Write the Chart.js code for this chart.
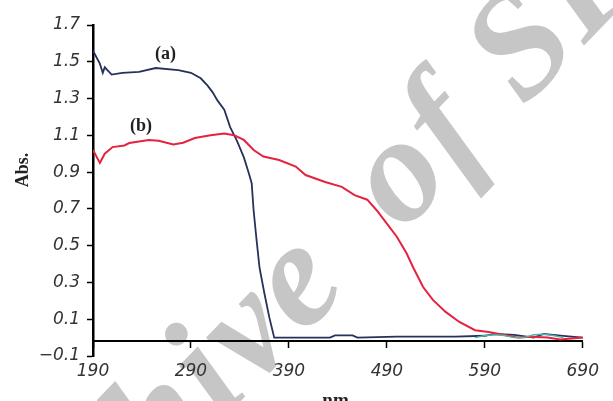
<!DOCTYPE html>
<html>
<head>
<meta charset="utf-8">
<script src="https://cdn.jsdelivr.net/npm/chart.js@4"></script>
<style>
  html, body { margin: 0; padding: 0; background: #fff; }
  #wrap { width: 613px; height: 401px; position: relative; }
</style>
</head>
<body>
<div id="wrap"><canvas id="chart"></canvas></div>
<script>
// Spectrum (a)
const nmA = [190, 197, 200, 202, 209, 220, 237, 254, 277, 290, 300, 307, 312, 317, 324, 330, 337, 344, 349, 352, 354, 357, 360, 365, 370, 375, 400, 432, 437, 455, 460, 500, 560, 590, 600, 620, 640, 650, 670, 690];
const absA = [1.56, 1.49, 1.44, 1.47, 1.43, 1.44, 1.445, 1.466, 1.455, 1.44, 1.41, 1.37, 1.335, 1.29, 1.24, 1.145, 1.07, 0.98, 0.895, 0.84, 0.69, 0.53, 0.38, 0.24, 0.11, 0.0, 0.0, 0.0, 0.012, 0.012, 0.0, 0.005, 0.005, 0.01, 0.02, 0.015, 0.0, 0.02, 0.01, 0.0];

// Spectrum (b)
const nmB = [190, 194, 197, 202, 210, 222, 227, 247, 257, 272, 282, 294, 310, 324, 334, 344, 354, 364, 380, 397, 407, 427, 444, 457, 470, 480, 490, 500, 510, 517, 527, 537, 550, 564, 580, 594, 610, 624, 637, 654, 667, 690];
const absB = [1.02, 0.98, 0.95, 1.00, 1.036, 1.045, 1.058, 1.075, 1.07, 1.05, 1.06, 1.085, 1.10, 1.11, 1.10, 1.075, 1.02, 0.985, 0.966, 0.93, 0.884, 0.846, 0.82, 0.775, 0.75, 0.69, 0.62, 0.55, 0.46, 0.38, 0.275, 0.205, 0.14, 0.085, 0.04, 0.03, 0.014, 0.0, 0.005, 0.0, -0.01, 0.0];

// faint baseline trace
const nmC = [580, 590, 600, 610, 620, 630, 640, 650, 660, 670];
const absC = [0.0, 0.012, 0.015, 0.012, 0.0, 0.0, 0.015, 0.018, 0.012, 0.0];

const xTicks = [190, 290, 390, 490, 590, 690];
const yTicks = [-0.1, 0.1, 0.3, 0.5, 0.7, 0.9, 1.1, 1.3, 1.5, 1.7];

const toPoints = (xs, ys) => xs.map((x, i) => ({ x: x, y: ys[i] }));

const tickFont = { family: "'DejaVu Sans'", size: 17, style: 'italic' };

// texts: watermark behind everything, then curve labels and axis titles
const textPlugin = {
  id: 'texts',
  beforeDraw(chart) {
    const ctx = chart.ctx;
    ctx.save();
    ctx.fillStyle = '#c6c6c6';
    ctx.font = "italic bold 150px 'Liberation Serif'";
    ctx.translate(403, 233);
    ctx.rotate(-46 * Math.PI / 180);
    ctx.textBaseline = 'alphabetic';
    ctx.textAlign = 'right';
    ctx.letterSpacing = '4px';
    ctx.fillText('Archive', -73, 0);
    ctx.textAlign = 'left';
    ctx.letterSpacing = '4px';
    ctx.fillText('of SID', 0, 0);
    ctx.restore();
  },
  afterDraw(chart) {
    const ctx = chart.ctx;
    const x = chart.scales.x, y = chart.scales.y;
    ctx.save();
    ctx.fillStyle = '#222';
    ctx.font = "bold 18px 'Liberation Serif'";
    ctx.textAlign = 'center';
    ctx.textBaseline = 'middle';
    ctx.fillText('(a)', x.getPixelForValue(264), y.getPixelForValue(1.54));
    ctx.fillText('(b)', x.getPixelForValue(239), y.getPixelForValue(1.15));
    ctx.font = "bold 19px 'Liberation Serif'";
    ctx.fillText('nm.', (chart.chartArea.left + chart.chartArea.right) / 2, 401);
    ctx.translate(23, 170);
    ctx.rotate(-Math.PI / 2);
    ctx.font = "bold 18px 'Liberation Serif'";
    ctx.fillText('Abs.', 0, 0);
    ctx.restore();
  }
};

new Chart(document.getElementById('chart'), {
  type: 'line',
  data: {
    datasets: [
      {
        data: toPoints(nmC, absC),
        borderColor: '#4fb3a8',
        borderWidth: 1.5,
        pointRadius: 0
      },
      {
        data: toPoints(nmB, absB),
        borderColor: '#e5233f',
        borderWidth: 2,
        pointRadius: 0
      },
      {
        data: toPoints(nmA, absA),
        borderColor: '#26315c',
        borderWidth: 1.8,
        pointRadius: 0
      }
    ]
  },
  options: {
    responsive: true,
    maintainAspectRatio: false,
    animation: false,
    layout: { padding: { top: 25, right: 21, left: 0, bottom: 45 } },
    plugins: {
      legend: { display: false },
      tooltip: { enabled: false }
    },
    scales: {
      x: {
        type: 'linear',
        min: 190,
        max: 690,
        position: { y: -0.021 },
        afterBuildTicks: s => { s.ticks = xTicks.map(v => ({ value: v })); },
        border: { display: true, color: '#000', width: 2 },
        grid: { drawOnChartArea: false, drawTicks: true, tickLength: 6, tickColor: '#000', tickWidth: 1.5 },
        ticks: { font: tickFont, color: '#333', padding: 14, maxRotation: 0 }
      },
      y: {
        min: -0.1,
        max: 1.7,
        afterFit: s => { s.width = 93; },
        afterBuildTicks: s => { s.ticks = yTicks.map(v => ({ value: v })); },
        border: { display: true, color: '#000', width: 2.5 },
        grid: { drawOnChartArea: false, drawTicks: true, tickLength: 6, tickColor: '#000', tickWidth: 1.5 },
        ticks: {
          font: tickFont,
          color: '#333',
          padding: 7,
          callback: v => (v < 0 ? '\u2212' : '') + Math.abs(v).toFixed(1)
        }
      }
    }
  },
  plugins: [textPlugin]
});
</script>
</body>
</html>
